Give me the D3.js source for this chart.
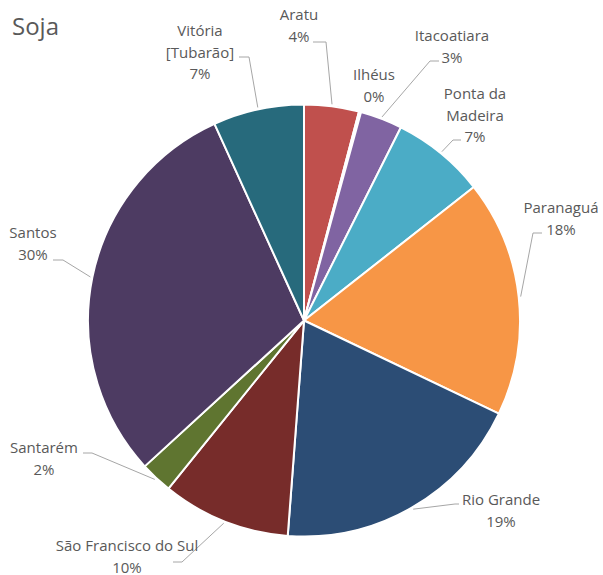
<!DOCTYPE html>
<html>
<head>
<meta charset="utf-8">
<script src="https://cdn.jsdelivr.net/npm/d3@7/dist/d3.min.js"></script>
<style>
  body { margin: 0; background: #fff; }
  svg text { font-family: 'Open Sans', sans-serif; fill: #595959; }
</style>
</head>
<body>
<div id="chart"></div>
<script>
// Soja - share by port (in %)
const ports = ['Aratu', 'Ilhéus', 'Itacoatiara', 'Ponta da Madeira', 'Paranaguá',
  'Rio Grande', 'São Francisco do Sul', 'Santarém', 'Santos', 'Vitória [Tubarão]'];
const shares = [4.1, 0.15, 3.15, 7.0, 17.7, 19.1, 9.6, 2.4, 30.0, 6.8];
const colors = ['#C0504D', '#9BBB59', '#8064A2', '#4BACC6', '#F79646',
  '#2C4D75', '#772C2A', '#5F7530', '#4D3B62', '#276A7C'];

// label placement: text lines, centre x, first baseline, leader elbow (x1 -> x2 at ly)
const labelLayout = {
  'Aratu': { lines: ['Aratu'], x: 299, y: 20, leader: [313, 326, 42] },
  'Ilhéus': { lines: ['Ilhéus'], x: 374, y: 80, leader: null },
  'Itacoatiara': { lines: ['Itacoatiara'], x: 452, y: 41, leader: [439, 430, 61] },
  'Ponta da Madeira': { lines: ['Ponta da', 'Madeira'], x: 475, y: 99, leader: [461, 453, 140] },
  'Paranaguá': { lines: ['Paranaguá'], x: 561, y: 213, leader: [542, 533, 233] },
  'Rio Grande': { lines: ['Rio Grande'], x: 501, y: 505, leader: [459, 455, 504] },
  'São Francisco do Sul': { lines: ['São Francisco do Sul'], x: 127, y: 551, leader: [173, 182, 562] },
  'Santarém': { lines: ['Santarém'], x: 44, y: 453, leader: [83, 92, 453] },
  'Santos': { lines: ['Santos'], x: 33, y: 238, leader: [53, 63, 260] },
  'Vitória [Tubarão]': { lines: ['Vitória', '[Tubarão]'], x: 200, y: 36, leader: [239, 249, 57] }
};

const width = 603, height = 575;
const cx = 304, cy = 320.5, radius = 216;
const lineH = 21.5;

const svg = d3.select('#chart').append('svg')
  .attr('width', width)
  .attr('height', height);

svg.append('text')
  .attr('x', 12)
  .attr('y', 35)
  .style('font-size', '24px')
  .text('Soja');

const data = ports.map((p, i) => ({ name: p, value: shares[i], color: colors[i] }));
const total = d3.sum(shares);

const pie = d3.pie().sort(null).value(d => d.value);
const arcs = pie(data);

const arc = d3.arc().innerRadius(0).outerRadius(radius);
// point just outside the rim, where leaders end
const rimArc = d3.arc().innerRadius(radius + 2).outerRadius(radius + 2);

const g = svg.append('g').attr('transform', 'translate(' + cx + ',' + cy + ')');

g.selectAll('path.slice')
  .data(arcs)
  .enter()
  .append('path')
  .attr('class', 'slice')
  .attr('d', arc)
  .attr('fill', d => d.data.color)
  .attr('stroke', '#fff')
  .attr('stroke-width', 2)
  .attr('stroke-linejoin', 'round');

// leader lines
arcs.forEach(d => {
  const lay = labelLayout[d.data.name];
  if (!lay.leader) return;
  const p = rimArc.centroid(d);
  const pts = [[lay.leader[0], lay.leader[2]], [lay.leader[1], lay.leader[2]], [p[0] + cx, p[1] + cy]];
  svg.append('path')
    .attr('d', d3.line()(pts))
    .attr('fill', 'none')
    .attr('stroke', '#A6A6A6')
    .attr('stroke-width', 1);
});

// labels
arcs.forEach(d => {
  const lay = labelLayout[d.data.name];
  const pct = Math.round(d.data.value / total * 100) + '%';
  const t = svg.append('text')
    .attr('text-anchor', 'middle')
    .style('font-size', '15px');
  lay.lines.concat([pct]).forEach((s, i) => {
    t.append('tspan')
      .attr('x', lay.x)
      .attr('y', lay.y + i * lineH)
      .text(s);
  });
});
</script>
</body>
</html>
